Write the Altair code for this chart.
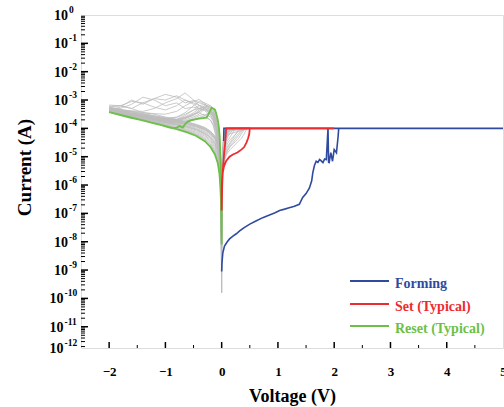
import altair as alt
import pandas as pd

# ---------------- data (current given as log10 of A) ----------------
form_v = [0.0, 0.005, 0.02, 0.05, 0.1, 0.14, 0.2, 0.26, 0.32, 0.4, 0.5, 0.6, 0.73, 0.85, 0.95, 1.03, 1.12, 1.2,
          1.28, 1.38, 1.44, 1.5, 1.56, 1.6, 1.62, 1.65, 1.68, 1.71, 1.74, 1.77, 1.8, 1.83, 1.86, 1.89, 1.9, 1.91,
          1.94, 1.97, 2.0, 2.04, 2.07, 2.08, 5.0, 0.04, 0.035]
form_e = [-9.05, -8.75, -8.4, -8.15, -8.0, -7.9, -7.8, -7.72, -7.62, -7.5, -7.38, -7.28, -7.15, -7.06, -6.98, -6.9,
          -6.85, -6.8, -6.76, -6.68, -6.44, -6.3, -6.1, -5.85, -5.56, -5.3, -5.16, -5.2, -5.1, -5.15, -5.21, -5.08,
          -5.1, -4.0, -5.2, -5.21, -4.86, -5.16, -4.75, -4.86, -4.28, -4.0, -4.0, -4.0, -4.45]

set_v = [0.0, 0.0, 0.0, 0.005, 0.01, 0.02, 0.04, 0.08, 0.14, 0.2, 0.28, 0.35, 0.4, 0.44, 0.47, 0.49, 0.5, 2.0,
         0.08, 0.07, 0.06, 0.045, 0.035, 0.02, 0.01, 0.0]
set_e = [-6.9, -6.5, -6.15, -5.9, -5.75, -5.55, -5.35, -5.15, -5.0, -4.92, -4.85, -4.75, -4.66, -4.5, -4.35, -4.2,
         -4.0, -4.0, -4.0, -4.3, -4.57, -4.85, -5.1, -5.5, -5.98, -6.9]

reset_v = [0.0, 0.0, -0.01, -0.02, -0.035, -0.05, -0.07, -0.1, -0.12, -0.15, -0.18, -0.22, -0.27, -0.33, -0.4,
           -0.47, -0.55, -0.6, -0.65, -0.69, -0.75, -0.8, -0.86, -0.92, -1.0, -1.1, -1.25, -1.4, -1.63, -1.8, -2.0,
           -1.6, -1.2, -1.0, -0.8, -0.6, -0.45, -0.3, -0.2, -0.12, -0.07, -0.04, -0.02, -0.01, 0.0]
reset_e = [-8.1, -7.0, -5.8, -5.1, -4.28, -3.95, -3.69, -3.45, -3.34, -3.3, -3.27, -3.45, -3.62, -3.64, -3.66,
           -3.68, -3.72, -3.76, -3.85, -3.97, -3.92, -3.97, -4.0, -3.97, -3.93, -3.87, -3.8, -3.72, -3.62, -3.53,
           -3.43, -3.62, -3.82, -3.92, -4.03, -4.15, -4.27, -4.45, -4.65, -4.92, -5.22, -5.6, -6.1, -6.8, -8.1]

# gray cycles: reset sweep out (0 -> -2 V)
gray_out_v = [0.0, -0.02, -0.05, -0.1, -0.15, -0.2, -0.3, -0.4, -0.5, -0.65, -0.8, -1.0, -1.2, -1.4, -1.6, -1.8, -2.0]
gray_out_e = [
    [-7.5, -5.2, -4.3, -3.7, -3.45, -3.4, -3.55, -3.62, -3.68, -3.75, -3.8, -3.78, -3.7, -3.62, -3.55, -3.47, -3.4],
    [-8.0, -5.5, -4.5, -3.85, -3.55, -3.4, -3.3, -3.5, -3.6, -3.7, -3.76, -3.74, -3.67, -3.6, -3.52, -3.45, -3.38],
    [-9.8, -5.8, -4.7, -4.0, -3.7, -3.55, -3.38, -3.3, -3.35, -3.55, -3.68, -3.7, -3.64, -3.57, -3.5, -3.43, -3.36],
    [-7.2, -5.0, -4.2, -3.6, -3.35, -3.2, -3.1, -3.05, -3.2, -3.45, -3.6, -3.66, -3.6, -3.54, -3.47, -3.4, -3.34],
    [-8.5, -5.6, -4.6, -3.95, -3.6, -3.45, -3.3, -3.2, -3.1, -3.0, -2.85, -3.0, -2.95, -3.1, -3.05, -3.2, -3.25],
    [-7.8, -5.4, -4.4, -3.8, -3.5, -3.3, -3.15, -3.1, -3.0, -2.75, -2.95, -3.1, -3.3, -3.4, -3.38, -3.35, -3.3],
    [-8.8, -6.0, -4.9, -4.1, -3.75, -3.6, -3.5, -3.55, -3.65, -3.74, -3.8, -3.8, -3.73, -3.65, -3.57, -3.49, -3.42],
    [-7.0, -4.9, -4.1, -3.55, -3.3, -3.2, -3.25, -3.4, -3.55, -3.65, -3.72, -3.72, -3.66, -3.59, -3.52, -3.44, -3.37],
    [-8.2, -5.7, -4.6, -3.9, -3.6, -3.45, -3.35, -3.3, -3.25, -3.3, -3.1, -3.2, -3.0, -2.9, -3.15, -3.3, -3.28],
    [-7.6, -5.3, -4.4, -3.75, -3.5, -3.35, -3.25, -3.3, -3.45, -3.6, -3.7, -3.7, -3.64, -3.57, -3.5, -3.42, -3.35],
    [-9.0, -6.2, -5.0, -4.2, -3.85, -3.7, -3.6, -3.62, -3.7, -3.8, -3.86, -3.84, -3.76, -3.67, -3.59, -3.5, -3.43],
    [-7.4, -5.1, -4.25, -3.65, -3.4, -3.25, -3.15, -3.2, -3.35, -3.5, -3.62, -3.65, -3.6, -3.53, -3.46, -3.39, -3.32],
    [-8.6, -5.9, -4.8, -4.05, -3.7, -3.5, -3.32, -3.18, -3.02, -3.1, -2.9, -2.8, -2.95, -3.15, -3.0, -3.25, -3.35],
    [-7.9, -5.45, -4.45, -3.8, -3.5, -3.38, -3.2, -3.3, -3.15, -3.0, -3.2, -3.35, -3.25, -3.1, -3.3, -3.2, -3.22],
    [-8.3, -5.7, -4.6, -3.92, -3.58, -3.42, -3.28, -3.42, -3.5, -3.62, -3.68, -3.6, -3.5, -3.45, -3.3, -3.2, -3.18],
    [-7.7, -5.35, -4.35, -3.72, -3.42, -3.28, -3.2, -3.35, -3.52, -3.62, -3.7, -3.69, -3.63, -3.56, -3.49, -3.41, -3.34],
    [-9.2, -6.4, -5.1, -4.3, -3.9, -3.72, -3.55, -3.45, -3.5, -3.66, -3.74, -3.75, -3.69, -3.62, -3.54, -3.46, -3.39],
    [-8.1, -5.6, -4.55, -3.88, -3.55, -3.36, -3.12, -2.98, -3.05, -3.2, -3.4, -3.5, -3.48, -3.44, -3.4, -3.36, -3.31],
]
# gray cycles: reset sweep back (-2 -> 0 V)
gray_back_v = [-2.0, -1.6, -1.2, -1.0, -0.8, -0.6, -0.45, -0.3, -0.2, -0.12, -0.07, -0.04, -0.02, -0.01, 0.0]
gray_back_e = [
    [-3.4, -3.58, -3.77, -3.86, -3.96, -4.07, -4.18, -4.33, -4.5, -4.75, -5.0, -5.35, -5.8, -6.4, -7.5],
    [-3.38, -3.55, -3.72, -3.8, -3.9, -4.0, -4.1, -4.24, -4.4, -4.62, -4.88, -5.2, -5.65, -6.2, -7.2],
    [-3.36, -3.52, -3.68, -3.76, -3.85, -3.94, -4.03, -4.16, -4.3, -4.5, -4.75, -5.05, -5.5, -6.0, -9.8],
    [-3.34, -3.5, -3.65, -3.72, -3.8, -3.88, -3.96, -4.08, -4.2, -4.38, -4.6, -4.9, -5.3, -5.9, -7.0],
    [-3.25, -3.4, -3.55, -3.62, -3.7, -3.78, -3.86, -3.97, -4.1, -4.28, -4.5, -4.8, -5.2, -5.8, -6.8],
    [-3.3, -3.46, -3.6, -3.67, -3.75, -3.83, -3.91, -4.02, -4.15, -4.33, -4.55, -4.85, -5.25, -5.85, -7.8],
    [-3.42, -3.6, -3.8, -3.9, -4.0, -4.12, -4.23, -4.4, -4.58, -4.85, -5.1, -5.45, -5.95, -6.6, -8.8],
    [-3.37, -3.54, -3.7, -3.78, -3.87, -3.97, -4.06, -4.2, -4.35, -4.56, -4.8, -5.12, -5.58, -6.1, -7.4],
    [-3.28, -3.43, -3.58, -3.65, -3.73, -3.8, -3.88, -4.0, -4.12, -4.3, -4.52, -4.82, -5.22, -5.82, -8.2],
    [-3.35, -3.51, -3.66, -3.74, -3.82, -3.91, -4.0, -4.12, -4.25, -4.44, -4.68, -4.98, -5.4, -5.95, -7.6],
    [-3.41, -3.6, -3.79, -3.88, -3.98, -4.1, -4.21, -4.37, -4.55, -4.8, -5.06, -5.4, -5.88, -6.5, -9.0],
    [-3.32, -3.48, -3.63, -3.7, -3.78, -3.86, -3.94, -4.05, -4.18, -4.36, -4.58, -4.88, -5.28, -5.88, -7.3],
    [-3.31, -3.47, -3.61, -3.68, -3.76, -3.84, -3.92, -4.03, -4.16, -4.34, -4.56, -4.86, -5.26, -5.86, -7.1],
    [-3.39, -3.57, -3.75, -3.84, -3.93, -4.04, -4.14, -4.28, -4.44, -4.68, -4.94, -5.28, -5.72, -6.3, -8.5],
    [-3.27, -3.42, -3.56, -3.63, -3.71, -3.79, -3.87, -3.98, -4.1, -4.26, -4.48, -4.76, -5.15, -5.7, -6.9],
    [-3.36, -3.53, -3.69, -3.77, -3.86, -3.95, -4.05, -4.18, -4.32, -4.53, -4.78, -5.1, -5.52, -6.05, -7.7],
]
# gray cycles: set sweep (0 -> +V)
gray_set_v = [0.0, 0.005, 0.01, 0.02, 0.04, 0.07, 0.1, 0.15, 0.2, 0.25, 0.3, 0.35, 0.4, 0.45, 0.5]
gray_set_e = [
    [-7.5, -6.0, -5.5, -5.1, -4.8, -4.6, -4.45, -4.3, -4.15, -4.0, -4.0, -4.0, -4.0, -4.0, -4.0],
    [-7.2, -6.3, -5.7, -5.3, -5.0, -4.8, -4.65, -4.5, -4.35, -4.2, -4.05, -4.0, -4.0, -4.0, -4.0],
    [-6.8, -5.6, -5.2, -4.8, -4.5, -4.3, -4.15, -4.0, -4.0, -4.0, -4.0, -4.0, -4.0, -4.0, -4.0],
    [-8.0, -6.5, -5.9, -5.45, -5.15, -4.95, -4.8, -4.65, -4.55, -4.45, -4.35, -4.2, -4.05, -4.0, -4.0],
    [-7.0, -5.5, -5.0, -4.6, -4.3, -4.1, -4.0, -4.0, -4.0, -4.0, -4.0, -4.0, -4.0, -4.0, -4.0],
    [-7.8, -6.1, -5.6, -5.2, -4.9, -4.7, -4.55, -4.4, -4.3, -4.2, -4.1, -4.0, -4.0, -4.0, -4.0],
    [-9.8, -6.8, -6.0, -5.5, -5.2, -5.0, -4.88, -4.75, -4.65, -4.55, -4.45, -4.35, -4.2, -4.0, -4.0],
    [-7.6, -6.2, -5.6, -5.0, -4.6, -4.35, -4.2, -4.05, -4.0, -4.0, -4.0, -4.0, -4.0, -4.0, -4.0],
    [-8.4, -6.4, -5.8, -5.35, -5.05, -4.85, -4.7, -4.55, -4.42, -4.3, -4.18, -4.06, -4.0, -4.0, -4.0],
    [-7.3, -5.9, -5.35, -4.95, -4.65, -4.45, -4.32, -4.18, -4.05, -4.0, -4.0, -4.0, -4.0, -4.0, -4.0],
    [-7.1, -5.8, -5.3, -4.9, -4.55, -4.35, -4.22, -4.1, -4.0, -4.0, -4.0, -4.0, -4.0, -4.0, -4.0],
    [-8.8, -6.6, -6.0, -5.5, -5.15, -4.92, -4.78, -4.62, -4.5, -4.38, -4.25, -4.12, -4.02, -4.0, -4.0],
]
# gray cycles: set sweep back (+V -> 0)
gray_setback_v = [0.5, 0.12, 0.08, 0.05, 0.03, 0.015, 0.005, 0.0]
gray_setback_e = [
    [-4.0, -4.0, -4.1, -4.35, -4.7, -5.2, -5.9, -7.5],
    [-4.0, -4.0, -4.0, -4.2, -4.5, -5.0, -5.7, -7.2],
    [-4.0, -4.1, -4.3, -4.6, -4.95, -5.4, -6.1, -6.8],
    [-4.0, -4.0, -4.05, -4.25, -4.6, -5.1, -5.8, -8.0],
    [-4.0, -4.2, -4.45, -4.8, -5.15, -5.6, -6.2, -7.0],
    [-4.0, -4.0, -4.0, -4.1, -4.4, -4.9, -5.6, -7.8],
    [-4.0, -4.05, -4.2, -4.5, -4.85, -5.3, -6.0, -9.8],
    [-4.0, -4.0, -4.15, -4.4, -4.75, -5.25, -5.95, -7.6],
]

x_ticks = [-2, -1, 0, 1, 2, 3, 4, 5]
x_minor = [-1.5, -0.5, 0.5, 1.5, 2.5, 3.5, 4.5]
y_exps = list(range(0, -12, -1))
y_bottom_exp = -11.75
y_label_short = [0, -1, -2, -3, -4, -5, -6, -7, -8, -9]
y_label_long = [-10, -11, -12]

legend_names = ["Forming", "Set (Typical)", "Reset (Typical)"]
BLUE, RED, GREEN, GRAY = "#2f4b9f", "#ee2b2f", "#6cbf48", "#bdbdbd"
legend_colors = [BLUE, RED, GREEN]

# ---------------- build tables ----------------
def frame(curves):
    rows = []
    for name, vs, es in curves:
        for i, (v, e) in enumerate(zip(vs, es)):
            rows.append({"curve": name, "i": i, "V": v, "I": 10 ** e})
    return pd.DataFrame(rows)

gray_curves = []
for k, es in enumerate(gray_out_e):
    gray_curves.append((f"ro{k}", gray_out_v, es))
for k, es in enumerate(gray_back_e):
    gray_curves.append((f"rb{k}", gray_back_v, es))
for k, es in enumerate(gray_set_e):
    gray_curves.append((f"so{k}", gray_set_v, es))
for k, es in enumerate(gray_setback_e):
    gray_curves.append((f"sb{k}", gray_setback_v, es))

gray_df = frame(gray_curves)
form_df = frame([("Forming", form_v, form_e)])
set_df = frame([("Set", set_v, set_e)])
reset_df = frame([("Reset", reset_v, reset_e)])

FONT = "Liberation Serif"

def lab_df(exps):
    return pd.DataFrame({"I": [10.0 ** max(e, y_bottom_exp) for e in exps],
                         "lab": [str(e) for e in exps]})

xs = alt.Scale(domain=[-2.5, 5], nice=False, zero=False)
ys = alt.Scale(type="log", domain=[10 ** y_bottom_exp, 1], nice=False)

xaxis = alt.Axis(values=x_ticks, title="Voltage (V)", ticks=False, domain=False, grid=False,
                 labelFont=FONT, labelFontSize=13, labelFontWeight="bold", labelColor="black",
                 labelPadding=17, labelFlush=False, labelOverlap=False, labelBound=False,
                 titleFont=FONT, titleFontSize=18, titleFontWeight="bold", titleColor="black",
                 titleX=211, titleY=48, titleBaseline="middle", titleAlign="center")
yaxis = alt.Axis(values=[10.0 ** e for e in y_exps], labels=False, title="Current (A)", ticks=False,
                 domain=False, grid=False,
                 titleFont=FONT, titleFontSize=19, titleFontWeight="bold", titleColor="black",
                 titleX=-57, titleY=152, titleAngle=270, titleBaseline="middle", titleAlign="center")

X = alt.X("V:Q", scale=xs, axis=xaxis)
Y = alt.Y("I:Q", scale=ys, axis=yaxis)

def lines(df, color, width):
    return alt.Chart(df).mark_line(clip=True, strokeWidth=width, color=color).encode(
        x=X, y=Y, detail="curve:N", order="i:Q")

gray = lines(gray_df, GRAY, 0.8)
form = lines(form_df, BLUE, 1.6)
reset = lines(reset_df, GREEN, 1.8)
setl = lines(set_df, RED, 1.8)

# y tick labels: "10" with raised exponent
def ylabels(exps, ten_x, exp_x):
    d = lab_df(exps)
    ten = alt.Chart(d).mark_text(align="right", baseline="middle", font=FONT, fontSize=14,
                                 fontWeight="bold", color="black", dy=1).encode(
        y=Y, x=alt.value(ten_x), text=alt.value("10"))
    ex = alt.Chart(d).mark_text(align="left", baseline="middle", font=FONT, fontSize=9.5,
                                fontWeight="bold", color="black", dy=-5).encode(
        y=Y, x=alt.value(exp_x), text="lab:N")
    return [ten, ex]

ylab_layers = ylabels(y_label_short, -13, -12) + ylabels(y_label_long, -17.5, -16.5)

# inward axis ticks
ymaj = pd.DataFrame({"I": [10.0 ** e for e in y_exps[1:]]})
ymin = pd.DataFrame({"I": [m * 10.0 ** e for e in range(-12, 0) for m in range(2, 10)
                           if m * 10.0 ** e > 10 ** y_bottom_exp]})
xmaj = pd.DataFrame({"V": x_ticks[:-1]})
xmin = pd.DataFrame({"V": x_minor})

ytick_major = alt.Chart(ymaj).mark_rule(color="black", strokeWidth=1.5).encode(
    y=Y, x=alt.value(0), x2=alt.value(7))
ytick_minor = alt.Chart(ymin).mark_rule(color="black", strokeWidth=1).encode(
    y=Y, x=alt.value(0), x2=alt.value(4))
xtick_major = alt.Chart(xmaj).mark_rule(color="black", strokeWidth=1.5).encode(
    x=X, y=alt.value(333), y2=alt.value(327))
xtick_minor = alt.Chart(xmin).mark_rule(color="black", strokeWidth=1).encode(
    x=X, y=alt.value(333), y2=alt.value(330))

# legend
legend_layers = []
leg_y = [266, 289, 311]
for name, col, ly in zip(legend_names, legend_colors, leg_y):
    d = alt.Data(values=[{"k": 1}])
    legend_layers.append(alt.Chart(d).mark_rule(color=col, strokeWidth=1.8).encode(
        x=alt.value(269), x2=alt.value(308), y=alt.value(ly)))
    legend_layers.append(alt.Chart(d).mark_text(
        align="left", baseline="middle", font=FONT, fontSize=14, fontWeight="bold", color=col).encode(
        x=alt.value(314), y=alt.value(ly + 3), text=alt.value(name)))

chart = alt.layer(gray, form, reset, setl, ytick_major, ytick_minor, xtick_major, xtick_minor,
                  *ylab_layers, *legend_layers).properties(
    width=422, height=333,
    padding={"left": 81, "top": 15, "right": 1, "bottom": 59},
    autosize=alt.AutoSizeParams(type="none"),
).configure_view(stroke="black", strokeWidth=1.6).configure(background="white")

chart.save("out.html", embed_options={"renderer": "svg", "actions": False})
